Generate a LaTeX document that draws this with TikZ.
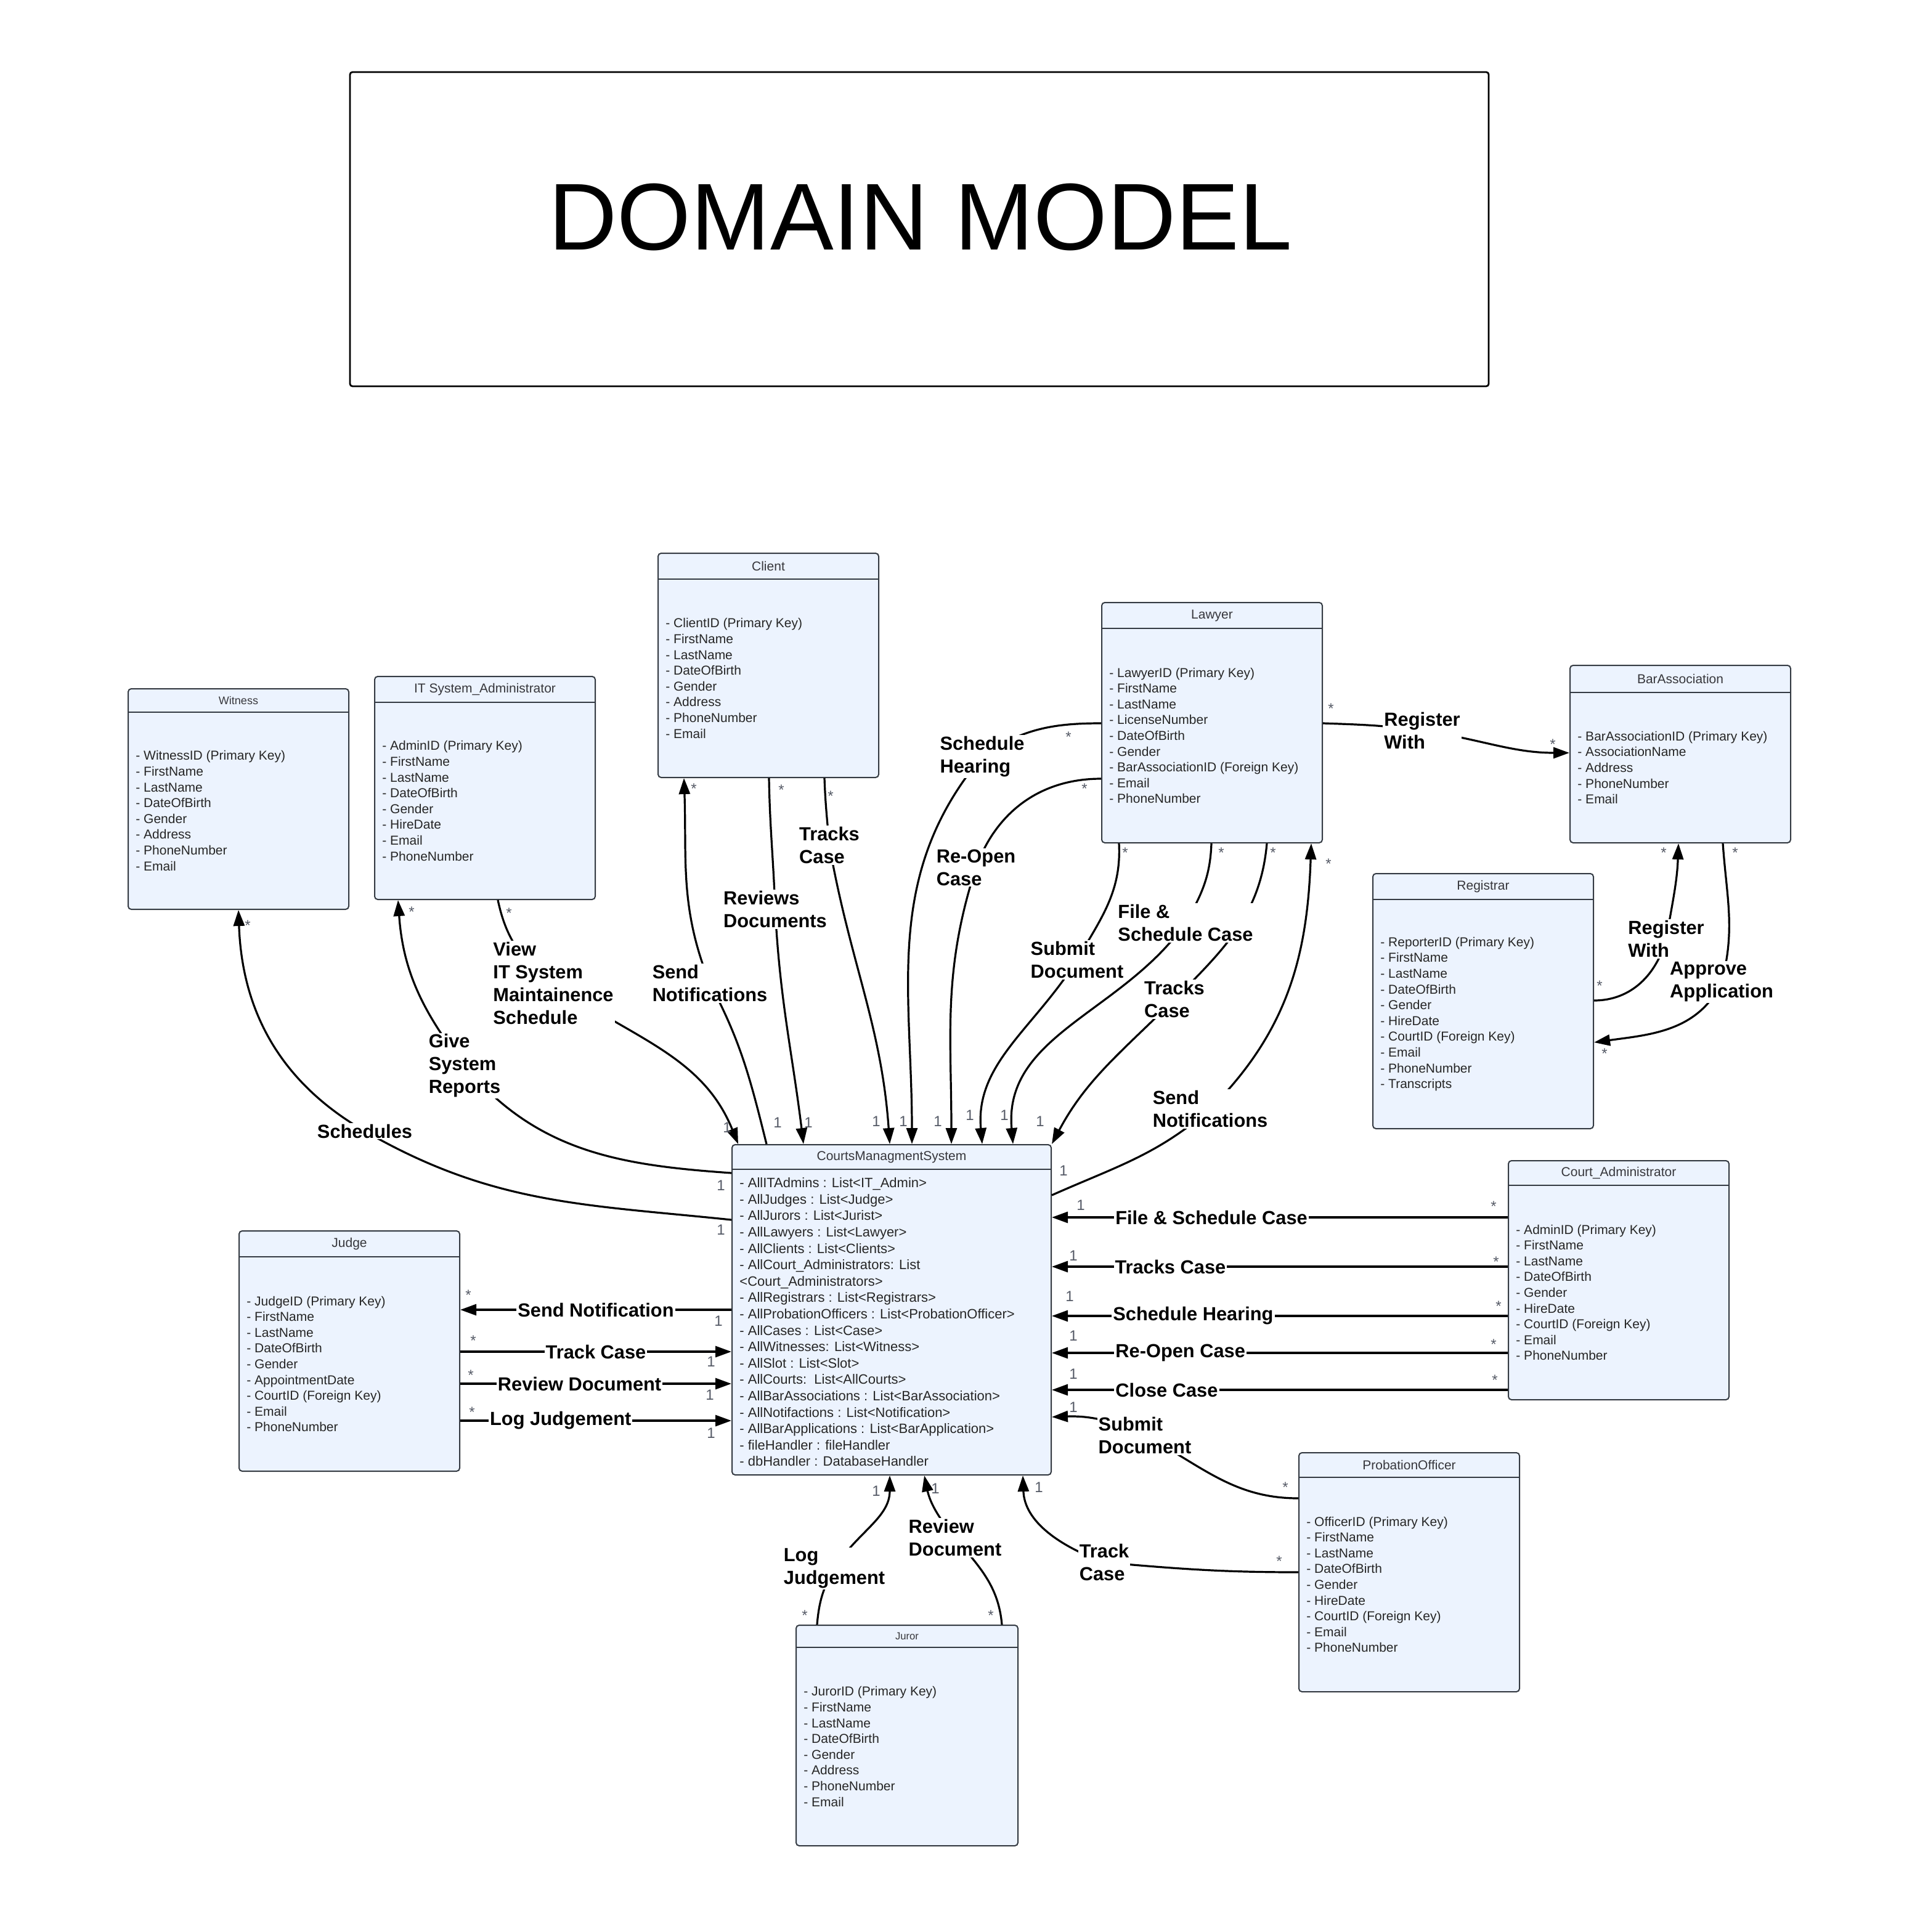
\documentclass[tikz,border=0pt]{standalone}
\usepackage{fontspec}
\setmainfont{Liberation Sans}
\usepackage{tikz}
\usetikzlibrary{arrows.meta}

\definecolor{ClassFill}{RGB}{236,243,254}
\definecolor{ClassLine}{RGB}{52,58,66}
\definecolor{MultGray}{RGB}{85,90,102}
\definecolor{HeadGray}{RGB}{55,55,60}

\newcommand{\umlclass}[9][]{%
  \node[classbox, minimum width={#5-#3}, minimum height={#6-#4}] (#2) at ({(#3+#5)/2},{(#4+#6)/2}) {};
  \draw[classsep] (#2.west |- 0,#7) -- (#2.east |- 0,#7);
  \node[classhead] (#2-head) at ({(#3+#5)/2},{(#4+#7)/2}) {#8};
  \node[classattr, #1] (#2-attr) at ({#3+6},{(#7+#6)/2}) {#9};
}

\begin{document}
\begin{tikzpicture}[x=1pt, y=-1pt,
    classbox/.style={draw=ClassLine, fill=ClassFill, line width=1pt, rounded corners=2.5pt, inner sep=0pt},
    classsep/.style={draw=ClassLine, line width=1pt},
    classhead/.style={font=\fontsize{10.5}{12}\selectfont, text=HeadGray, inner sep=0pt},
    classattr/.style={font=\fontsize{10.5}{12.8}\selectfont, text=black!85, anchor=west, align=left, inner sep=0pt},
    titlebox/.style={draw=black, line width=1.4pt, rounded corners=2pt, minimum width=924pt, minimum height=255pt},
    conn/.style={draw=black, line width=1.6pt},
    arr/.style={-{Triangle[length=13pt,width=9pt]}},
    lbl/.style={font=\fontsize{15.4}{18.5}\selectfont\bfseries, align=left, fill=white, inner sep=1pt},
    multone/.style={font=\fontsize{12}{12}\selectfont, text=MultGray, inner sep=0pt},
    multstar/.style={multone, yshift=-3pt}]

\useasboundingbox (0,0) rectangle (1564,1568);

\node[titlebox] (title) at (746,186) {};
\node[font=\fontsize{77}{80}\selectfont] (title-text) at (747,176) {DOMAIN MODEL};

\umlclass{witness}{104}{559}{283}{738}{578}{\fontsize{9}{9}\selectfont Witness}
  {- WitnessID (Primary Key)\\- FirstName\\- LastName\\- DateOfBirth\\- Gender\\- Address\\- PhoneNumber\\- Email}
\umlclass{itadmin}{304}{549}{483}{730}{570}{IT System\_Administrator}
  {- AdminID (Primary Key)\\- FirstName\\- LastName\\- DateOfBirth\\- Gender\\- HireDate\\- Email\\- PhoneNumber}
\umlclass{client}{534}{449}{713}{631}{470}{Client}
  {- ClientID (Primary Key)\\- FirstName\\- LastName\\- DateOfBirth\\- Gender\\- Address\\- PhoneNumber\\- Email}
\umlclass{lawyer}{894}{489}{1073}{684}{510}{Lawyer}
  {- LawyerID (Primary Key)\\- FirstName\\- LastName\\- LicenseNumber\\- DateOfBirth\\- Gender\\- BarAssociationID (Foreign Key)\\- Email\\- PhoneNumber}
\umlclass{barassoc}{1274}{540}{1453}{684}{562}{BarAssociation}
  {- BarAssociationID (Primary Key)\\- AssociationName\\- Address\\- PhoneNumber\\- Email}
\umlclass{registrar}{1114}{709}{1293}{916}{730}{Registrar}
  {- ReporterID (Primary Key)\\- FirstName\\- LastName\\- DateOfBirth\\- Gender\\- HireDate\\- CourtID (Foreign Key)\\- Email\\- PhoneNumber\\- Transcripts}
\umlclass[font=\fontsize{11}{13.3}\selectfont]{cms}{594}{929}{853}{1197}{949}{CourtsManagmentSystem}
  {- AllITAdmins : List<IT\_Admin>\\- AllJudges : List<Judge>\\- AllJurors : List<Jurist>\\- AllLawyers : List<Lawyer>\\- AllClients : List<Clients>\\- AllCourt\_Administrators: List\\<Court\_Administrators>\\- AllRegistrars : List<Registrars>\\- AllProbationOfficers : List<ProbationOfficer>\\- AllCases : List<Case>\\- AllWitnesses: List<Witness>\\- AllSlot : List<Slot>\\- AllCourts:\ \ List<AllCourts>\\- AllBarAssociations : List<BarAssociation>\\- AllNotifactions : List<Notification>\\- AllBarApplications : List<BarApplication>\\- fileHandler : fileHandler\\- dbHandler : DatabaseHandler}
\umlclass{courtadmin}{1224}{942}{1403}{1136}{962}{Court\_Administrator}
  {- AdminID (Primary Key)\\- FirstName\\- LastName\\- DateOfBirth\\- Gender\\- HireDate\\- CourtID (Foreign Key)\\- Email\\- PhoneNumber}
\umlclass{judge}{194}{999}{373}{1194}{1020}{Judge}
  {- JudgeID (Primary Key)\\- FirstName\\- LastName\\- DateOfBirth\\- Gender\\- AppointmentDate\\- CourtID (Foreign Key)\\- Email\\- PhoneNumber}
\umlclass{probation}{1054}{1179}{1233}{1373}{1199}{ProbationOfficer}
  {- OfficerID (Primary Key)\\- FirstName\\- LastName\\- DateOfBirth\\- Gender\\- HireDate\\- CourtID (Foreign Key)\\- Email\\- PhoneNumber}
\umlclass{juror}{646}{1319}{826}{1498}{1337}{\fontsize{8.3}{9}\selectfont Juror}
  {- JurorID (Primary Key)\\- FirstName\\- LastName\\- DateOfBirth\\- Gender\\- Address\\- PhoneNumber\\- Email}

% left side
\draw[conn,arr] (cms.west |- 0,990) to[out=174,in=-30] (296,918) node[lbl] (l-sched) {Schedules} to[out=150,in=-88] (witness.south);
\draw[conn,arr] (cms.west |- 0,952) to[out=176,in=-50] (377,865) node[lbl] (l-give) {Give\\System\\Reports} to[out=128,in=-86] (itadmin.south -| 323,0);
\draw[conn,arr] (itadmin.south -| 404,0) to[out=-78,in=145] (449,798) node[lbl] (l-view) {View\\IT System\\Maintainence\\Schedule} to[out=-35,in=112] (cms.north -| 599,0);

% client
\draw[conn,arr] (cms.north -| 622,0) to[out=104,in=-62] (576,798) node[lbl] (l-sendc) {Send\\Notifications} to[out=112,in=-88] (client.south -| 555,0);
\draw[conn,arr] (client.south -| 624,0) to[out=-89,in=92] (629,738) node[lbl] (l-rev) {Reviews\\Documents} to[out=-87,in=97] (cms.north -| 652,0);
\draw[conn,arr] (client.south -| 669,0) to[out=-88,in=95] (673,686) node[lbl] (l-trc) {Tracks\\Case} to[out=-80,in=94] (cms.north -| 722,0);

% lawyer
\draw[conn,arr] (lawyer.west |- 0,587) to[out=180,in=35] (797,614) node[lbl] (l-sh) {Schedule\\Hearing} to[out=-130,in=90] (cms.north -| 740,0);
\draw[conn,arr] (lawyer.west |- 0,632) to[out=180,in=70] (792,704) node[lbl] (l-reopen) {Re-Open\\Case} to[out=-108,in=90] (cms.north -| 772,0);
\draw[conn,arr] (lawyer.south -| 1028,0) to[out=-95,in=45] (953,811) node[lbl] (l-trl) {Tracks\\Case} to[out=-135,in=62] (cms.north east);
\draw[conn,arr] (lawyer.south -| 908,0) to[out=-87,in=60] (874,779) node[lbl] (l-subl) {Submit\\Document} to[out=-122,in=95] (cms.north -| 797,0);
\draw[conn,arr] (lawyer.south -| 983,0) to[out=-92,in=60] (962,749) node[lbl] (l-fsl) {File \&\\Schedule Case} to[out=-125,in=95] (cms.north -| 822,0);
\draw[conn,arr] (cms.east |- 0,970) to[out=24,in=-139] (982,900) node[lbl] (l-sendl) {Send\\Notifications} to[out=45,in=-92] (lawyer.south -| 1064,0);
\draw[conn,arr] (lawyer.east |- 0,587) to[out=-2,in=172] (1154,593) node[lbl] (l-regl) {Register\\With} to[out=-8,in=180] (barassoc.west |- 0,611);

% bar association and registrar
\draw[conn,arr] (registrar.east |- 0,812) to[out=0,in=-105] (1352,762) node[lbl] (l-regr) {Register\\With} to[out=80,in=-92] (barassoc.south -| 1362,0);
\draw[conn,arr] (barassoc.south -| 1398,0) to[out=-86,in=75] (1397,797) node[lbl] (l-appr) {Approve\\Application} to[out=-115,in=8] (registrar.east |- 0,846);

% court administrator
\draw[conn,arr] (courtadmin.west |- 0,988) -- node[lbl,pos=0.65] (l-fsc) {File \& Schedule Case} (cms.east |- 0,988);
\draw[conn,arr] (courtadmin.west |- 0,1028) -- node[lbl,pos=0.74] (l-tca) {Tracks Case} (cms.east |- 0,1028);
\draw[conn,arr] (courtadmin.west |- 0,1068) -- node[lbl,pos=0.69] (l-sha) {Schedule Hearing} (cms.east |- 0,1068);
\draw[conn,arr] (courtadmin.west |- 0,1098) -- node[lbl,pos=0.718] (l-roa) {Re-Open Case} (cms.east |- 0,1098);
\draw[conn,arr] (courtadmin.west |- 0,1128) -- node[lbl,pos=0.748] (l-cca) {Close Case} (cms.east |- 0,1128);

% judge
\draw[conn,arr] (cms.west |- 0,1063) -- node[lbl,pos=0.5] (l-snj) {Send Notification} (judge.east |- 0,1063);
\draw[conn,arr] (judge.east |- 0,1097) -- node[lbl,pos=0.5] (l-tcj) {Track Case} (cms.west |- 0,1097);
\draw[conn,arr] (judge.east |- 0,1123) -- node[lbl,pos=0.44] (l-rdj) {Review Document} (cms.west |- 0,1123);
\draw[conn,arr] (judge.east |- 0,1153) -- node[lbl,pos=0.37] (l-ljj) {Log Judgement} (cms.west |- 0,1153);

% juror and probation officer
\draw[conn,arr] (juror.north -| 663,0) to[out=85,in=-120] (677,1273) node[lbl] (l-lj) {Log\\Judgement} to[out=58,in=-90] (cms.south -| 722,0);
\draw[conn,arr] (juror.north -| 813,0) to[out=95,in=-50] (775,1248) node[lbl] (l-rd) {Review\\Document} to[out=130,in=-78] (cms.south -| 750,0);
\draw[conn,arr] (probation.west |- 0,1276) to[out=180,in=-5] (896,1268) node[lbl] (l-tcp) {Track\\Case} to[out=160,in=-88] (cms.south -| 830,0);
\draw[conn,arr] (probation.west |- 0,1216) to[out=180,in=-28] (929,1165) node[lbl] (l-sdp) {Submit\\Document} to[out=155,in=2] (cms.east |- 0,1150);

% multiplicities
\node[multstar] (st1) at (201,748) {*};
\node[multstar] (st2) at (334,737) {*};
\node[multstar] (st3) at (413,738) {*};
\node[multstar] (st4) at (563,637) {*};
\node[multstar] (st5) at (634,638) {*};
\node[multstar] (st6) at (674,643) {*};
\node[multstar] (st7) at (867,595) {*};
\node[multstar] (st8) at (880,637) {*};
\node[multstar] (st9) at (913,689) {*};
\node[multstar] (st10) at (991,689) {*};
\node[multstar] (st11) at (1033,689) {*};
\node[multstar] (st12) at (1078,698) {*};
\node[multstar] (st13) at (1080,572) {*};
\node[multstar] (st14) at (1260,601) {*};
\node[multstar] (st15) at (1350,689) {*};
\node[multstar] (st16) at (1408,689) {*};
\node[multstar] (st17) at (1298,797) {*};
\node[multstar] (st18) at (1302,852) {*};
\node[multstar] (st19) at (1212,976) {*};
\node[multstar] (st20) at (1214,1021) {*};
\node[multstar] (st21) at (1216,1057) {*};
\node[multstar] (st22) at (1212,1088) {*};
\node[multstar] (st23) at (1213,1117) {*};
\node[multstar] (st24) at (380,1048) {*};
\node[multstar] (st25) at (384,1085) {*};
\node[multstar] (st26) at (382,1113) {*};
\node[multstar] (st27) at (383,1143) {*};
\node[multstar] (st28) at (653,1308) {*};
\node[multstar] (st29) at (804,1308) {*};
\node[multstar] (st30) at (1043,1204) {*};
\node[multstar] (st31) at (1038,1264) {*};

\node[multone] (on1) at (590,915) {1};
\node[multone] (on2) at (631,911) {1};
\node[multone] (on3) at (656,911) {1};
\node[multone] (on4) at (711,910) {1};
\node[multone] (on5) at (733,910) {1};
\node[multone] (on6) at (761,910) {1};
\node[multone] (on7) at (787,905) {1};
\node[multone] (on8) at (815,905) {1};
\node[multone] (on9) at (844,910) {1};
\node[multone] (on10) at (585,962) {1};
\node[multone] (on11) at (585,998) {1};
\node[multone] (on12) at (583,1072) {1};
\node[multone] (on13) at (577,1105) {1};
\node[multone] (on14) at (576,1132) {1};
\node[multone] (on15) at (577,1163) {1};
\node[multone] (on16) at (863,950) {1};
\node[multone] (on17) at (877,978) {1};
\node[multone] (on18) at (871,1019) {1};
\node[multone] (on19) at (868,1052) {1};
\node[multone] (on20) at (871,1084) {1};
\node[multone] (on21) at (871,1115) {1};
\node[multone] (on22) at (871,1142) {1};
\node[multone] (on23) at (711,1210) {1};
\node[multone] (on24) at (759,1208) {1};
\node[multone] (on25) at (843,1207) {1};
\end{tikzpicture}
\end{document}
